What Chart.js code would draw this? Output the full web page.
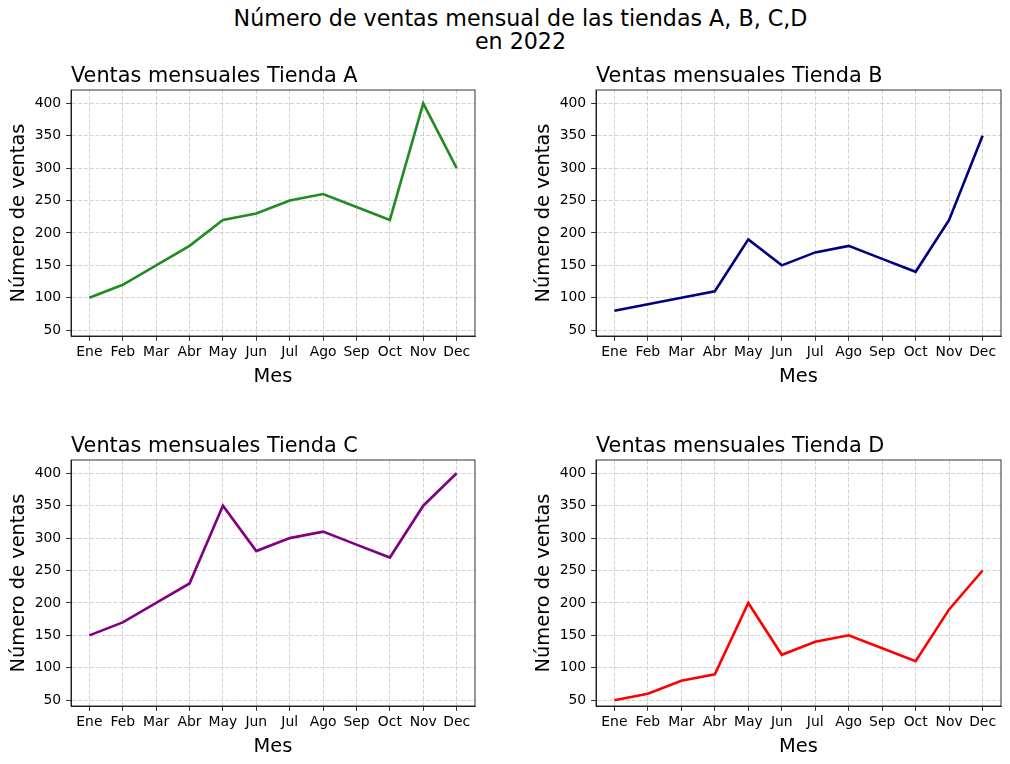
<!DOCTYPE html>
<html>
<head>
<meta charset="utf-8">
<script src="https://cdn.jsdelivr.net/npm/chart.js@4"></script>
<style>
  html, body { margin: 0; padding: 0; background: #ffffff; }
  body { width: 1010px; height: 764px; position: relative; overflow: hidden; font-family: 'DejaVu Sans', sans-serif; }
  canvas { position: absolute; }
  #suptitle { position: absolute; left: 0; width: 1041px; top: 7px; text-align: center; font-size: 22.2px; line-height: 23.3px; color: #000; }
</style>
</head>
<body>
<div id="suptitle">Número de ventas mensual de las tiendas A, B, C,D<br>en 2022</div>
<canvas id="cA"></canvas>
<canvas id="cB"></canvas>
<canvas id="cC"></canvas>
<canvas id="cD"></canvas>
<script>
// ---- Data ----
const months = ['Ene','Feb','Mar','Abr','May','Jun','Jul','Ago','Sep','Oct','Nov','Dec'];
const ventasA = [100,120,150,180,220,230,250,260,240,220,400,300];
const ventasB = [80,90,100,110,190,150,170,180,160,140,220,350];
const ventasC = [150,170,200,230,350,280,300,310,290,270,350,400];
const ventasD = [50,60,80,90,200,120,140,150,130,110,190,250];
const yTicks = [50,100,150,200,250,300,350,400];
const titles = ['Ventas mensuales Tienda A','Ventas mensuales Tienda B','Ventas mensuales Tienda C','Ventas mensuales Tienda D'];
const xLabel = 'Mes';
const yLabel = 'Número de ventas';

// ---- Layout ----
const FONT = 'DejaVu Sans';
const panels = [
  {id:'cA', data: ventasA, color:'#228B22', title: titles[0], axL:71,  axT:90,  axW:404, axH:246, padR:30},
  {id:'cB', data: ventasB, color:'#000080', title: titles[1], axL:596, axT:90,  axW:405, axH:246, padR:9},
  {id:'cC', data: ventasC, color:'#800080', title: titles[2], axL:71,  axT:460, axW:404, axH:246, padR:30},
  {id:'cD', data: ventasD, color:'#FF0000', title: titles[3], axL:596, axT:460, axW:405, axH:246, padR:9},
];
const YW = 71, TOPPAD = 30, XH = 54;

const framePlugin = {
  id: 'frame',
  afterDraw(chart, args, opts) {
    const {ctx, chartArea: a} = chart;
    ctx.save();
    ctx.setLineDash([]);
    ctx.lineWidth = 0.8;
    ctx.strokeStyle = '#000';
    ctx.strokeRect(a.left, a.top, a.right - a.left, a.bottom - a.top);
    ctx.fillStyle = '#000';
    ctx.font = '20.8px "' + FONT + '"';
    ctx.textAlign = 'left';
    ctx.textBaseline = 'alphabetic';
    ctx.fillText(opts.text, a.left, a.top - 8.3);
    ctx.restore();
  }
};

panels.forEach(p => {
  const cv = document.getElementById(p.id);
  const w = YW + p.axW + p.padR;
  const h = TOPPAD + p.axH + XH;
  cv.width = w; cv.height = h;
  cv.style.width = w + 'px'; cv.style.height = h + 'px';
  cv.style.left = (p.axL - YW) + 'px';
  cv.style.top = (p.axT - TOPPAD) + 'px';
  new Chart(cv, {
    type: 'line',
    data: {
      labels: months,
      datasets: [{
        data: p.data.map((v, i) => ({x: i, y: v})),
        borderColor: p.color,
        borderWidth: 2.6,
        pointRadius: 0,
        tension: 0,
        fill: false
      }]
    },
    plugins: [framePlugin],
    options: {
      responsive: false,
      animation: false,
      devicePixelRatio: 1,
      layout: { padding: { left: 0, top: TOPPAD, right: p.padR, bottom: 0 } },
      plugins: {
        legend: { display: false },
        tooltip: { enabled: false },
        frame: { text: p.title }
      },
      scales: {
        x: {
          type: 'linear',
          min: -0.55, max: 11.55,
          afterBuildTicks: s => { s.ticks = months.map((m, i) => ({value: i})); },
          afterFit: s => { s.height = XH; },
          ticks: {
            autoSkip: false, maxRotation: 0, minRotation: 0,
            padding: 3.5,
            color: '#000',
            font: { family: FONT, size: 13.9 },
            callback: v => months[v]
          },
          grid: { color: '#c8c8c8', lineWidth: 0.8, tickColor: '#000', tickLength: 4.9, tickWidth: 0.8 },
          border: { display: true, color: '#000', width: 0.8, dash: [4.1, 1.8] },
          title: { display: true, text: xLabel, color: '#000', font: { family: FONT, size: 19.4 }, padding: { top: 0, bottom: 1 } }
        },
        y: {
          type: 'linear',
          min: 41, max: 420.5,
          afterBuildTicks: s => { s.ticks = yTicks.map(v => ({value: v})); },
          afterFit: s => { s.width = YW; },
          ticks: {
            padding: 4.9,
            color: '#000',
            font: { family: FONT, size: 13.9 }
          },
          grid: { color: '#c8c8c8', lineWidth: 0.8, tickColor: '#000', tickLength: 4.9, tickWidth: 0.8 },
          border: { display: true, color: '#000', width: 0.8, dash: [4.1, 1.8] },
          title: { display: true, text: yLabel, color: '#000', font: { family: FONT, size: 19.4 }, padding: { top: 7, bottom: 0 } }
        }
      }
    }
  });
});
</script>
</body>
</html>
